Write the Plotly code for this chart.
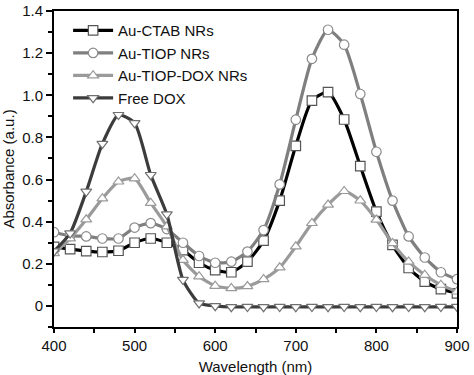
import plotly.graph_objects as go

wavelength = [400, 420, 440, 460, 480, 500, 520, 540, 560, 580, 600, 620, 640,
              660, 680, 700, 720, 740, 760, 780, 800, 820, 840, 860, 880, 900]

au_ctab = [0.28, 0.27, 0.26, 0.256, 0.262, 0.30, 0.32, 0.30, 0.265, 0.205, 0.17, 0.16, 0.21,
           0.31, 0.50, 0.76, 0.975, 1.015, 0.885, 0.664, 0.448, 0.29, 0.18, 0.115, 0.08, 0.06]

au_tiop = [0.35, 0.333, 0.33, 0.32, 0.32, 0.372, 0.393, 0.365, 0.30, 0.237, 0.205, 0.21, 0.258,
           0.36, 0.577, 0.884, 1.173, 1.311, 1.24, 1.006, 0.732, 0.50, 0.33, 0.23, 0.16, 0.127]

au_tiop_dox = [0.25, 0.32, 0.41, 0.51, 0.59, 0.605, 0.489, 0.377, 0.218, 0.14, 0.095, 0.084, 0.093,
               0.127, 0.182, 0.282, 0.393, 0.48, 0.545, 0.50, 0.409, 0.298, 0.21, 0.147, 0.10, 0.068]

free_dox = [0.26, 0.345, 0.543, 0.77, 0.907, 0.868, 0.622, 0.435, 0.124, 0.013, 0.0, -0.005, -0.004,
            -0.005, -0.004, -0.005, -0.004, -0.005, -0.004, -0.005, -0.004, -0.005, -0.004, -0.005, -0.004, -0.004]

series_names = ["Au-CTAB NRs", "Au-TIOP NRs", "Au-TIOP-DOX NRs", "Free DOX"]

x_ticks = [400, 500, 600, 700, 800, 900]
y_ticks = [0, 0.2, 0.4, 0.6, 0.8, 1.0, 1.2, 1.4]
y_tick_labels = ["0", "0.2", "0.4", "0.6", "0.8", "1.0", "1.2", "1.4"]

styles = [
    dict(line="#000000", edge="#555555", symbol="square"),
    dict(line="#7f7f7f", edge="#8a8a8a", symbol="circle"),
    dict(line="#9a9a9a", edge="#9a9a9a", symbol="triangle-up"),
    dict(line="#3c3c3c", edge="#707070", symbol="triangle-down"),
]

fig = go.Figure()
for name, ys, st in zip(series_names, [au_ctab, au_tiop, au_tiop_dox, free_dox], styles):
    fig.add_trace(go.Scatter(
        x=wavelength, y=ys, name=name, mode="lines+markers",
        line=dict(color=st["line"], width=3.2, shape="spline", smoothing=0.6),
        marker=dict(symbol=st["symbol"], size=9.5, color="white",
                    line=dict(color=st["edge"], width=1.2)),
    ))

font_family = "Liberation Sans, Arial, sans-serif"

fig.update_layout(
    width=474, height=375,
    margin=dict(l=54, r=17, t=11, b=48, autoexpand=False),
    paper_bgcolor="white", plot_bgcolor="white",
    font=dict(family=font_family, size=15, color="#111111"),
    showlegend=True,
    legend=dict(x=0.035, y=0.99, xanchor="left", yanchor="top",
                bgcolor="rgba(0,0,0,0)", font=dict(size=15, color="#111111"),
                itemwidth=40, tracegroupgap=0),
    xaxis=dict(range=[400, 900], tickvals=x_ticks, showgrid=False, zeroline=False,
               automargin=False,
               showline=True, linecolor="black", linewidth=2, mirror=True,
               ticks="outside", ticklen=4, tickwidth=2, tickcolor="black",
               minor=dict(dtick=50, tick0=400, ticks="outside", ticklen=4, tickwidth=2, tickcolor="black"),
               title=dict(text="Wavelength (nm)", font=dict(size=15))),
    yaxis=dict(range=[-0.1, 1.4], tickvals=y_ticks, ticktext=y_tick_labels, showgrid=False,
               automargin=False,
               zeroline=False, showline=True, linecolor="black", linewidth=2, mirror=True,
               ticks="outside", ticklen=6, tickwidth=2, tickcolor="black",
               minor=dict(dtick=0.1, tick0=0, ticks="outside", ticklen=4, tickwidth=2, tickcolor="black"),
               title=dict(text="Absorbance (a.u.)", font=dict(size=15))),
)

fig.write_html("out.html", config={"displayModeBar": False},
               post_script="document.body.style.margin='0';")
